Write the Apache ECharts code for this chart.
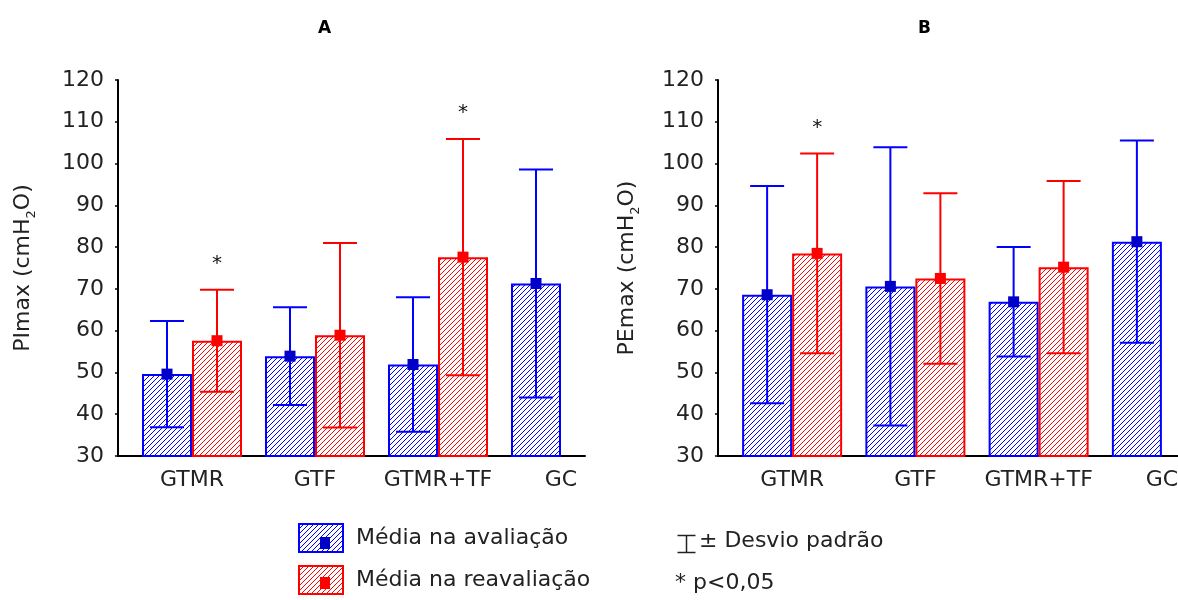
<!DOCTYPE html>
<html>
<head>
<meta charset="utf-8">
<script src="https://cdn.jsdelivr.net/npm/echarts@6/dist/echarts.min.js"></script>
<style>
  html, body { margin: 0; padding: 0; background: #fff; overflow: hidden; }
  /* wider than the window: panel B runs off the right edge as in the original */
  #chart { width: 1230px; height: 600px; }
</style>
</head>
<body>
<div id="chart"></div>
<script>
// groups on the x axis
const categories = ['GTMR', 'GTF', 'GTMR+TF', 'GC']

// A - PImax (cmH2O)
const piAvalMean = [49.6, 53.9, 51.9, 71.3]
const piAvalSd = [12.7, 11.7, 16.1, 27.3]
const piReavMean = [57.6, 58.9, 77.6, null]
const piReavSd = [12.2, 22.1, 28.3, null]
const piSig = [1, 0, 1, 0]

// B - PEmax (cmH2O)
const peAvalMean = [68.6, 70.6, 66.9, 81.3]
const peAvalSd = [26.0, 33.3, 13.1, 24.2]
const peReavMean = [78.5, 72.5, 75.2, null]
const peReavSd = [23.9, 20.4, 20.6, null]
const peSig = [1, 0, 0, 0]

const yTicks = { min: 30, max: 120, interval: 10 }

const BLUE = '#0000ff'
const RED = '#ff0000'
const BLUE_DARK = '#0000c8'
const FONT = 'DejaVu Sans'

// diagonal hatch used as bar fill
function hatch(color, size) {
  const c = document.createElement('canvas')
  c.width = size
  c.height = size
  const ctx = c.getContext('2d')
  ctx.fillStyle = '#fff'
  ctx.fillRect(0, 0, size, size)
  ctx.fillStyle = color
  for (let i = 0; i < size; i++) ctx.fillRect(i, size - 1 - i, 1, 1)
  return { image: c, repeat: 'repeat' }
}

function errorSeries(name, xi, yi, means, sds, sig, side, color, markColor) {
  const data = means.map((m, i) => [i, m, sds[i], sig[i]])
  return {
    name: name + ' dp',
    type: 'custom',
    xAxisIndex: xi,
    yAxisIndex: yi,
    z: 5,
    silent: true,
    clip: false,
    data,
    encode: { x: 0, y: 1 },
    renderItem(params, api) {
      const m = api.value(1)
      if (m == null || isNaN(m)) return null
      const s = api.value(2)
      const ctr = api.coord([api.value(0), m])
      const top = api.coord([api.value(0), m + s])
      const bot = api.coord([api.value(0), m - s])
      const x = ctr[0] + side * 25
      const cap = 17
      const ls = { stroke: color, lineWidth: 2 }
      const kids = [
        { type: 'line', shape: { x1: x, y1: top[1], x2: x, y2: bot[1] }, style: ls },
        { type: 'line', shape: { x1: x - cap, y1: top[1], x2: x + cap, y2: top[1] }, style: ls },
        { type: 'line', shape: { x1: x - cap, y1: bot[1], x2: x + cap, y2: bot[1] }, style: ls },
        { type: 'rect', shape: { x: x - 5.5, y: ctr[1] - 5.5, width: 11, height: 11 }, style: { fill: markColor } },
      ]
      if (api.value(3)) {
        kids.push({
          type: 'text',
          style: {
            text: '*', x: x, y: top[1] - 36, fill: '#111',
            font: '20px ' + FONT, align: 'center', verticalAlign: 'top',
          },
        })
      }
      return { type: 'group', children: kids }
    },
  }
}

function barSeries(name, xi, yi, values, color) {
  return {
    name,
    type: 'bar',
    xAxisIndex: xi,
    yAxisIndex: yi,
    data: values,
    barWidth: 50,
    barGap: '0%',
    itemStyle: { color: hatch(color, 5), borderColor: color, borderWidth: 2 },
  }
}

function axisGrid(left, width) {
  return { left, width, top: 80, bottom: 144 }
}

function valueXAxis(gi) {
  return {
    gridIndex: gi, type: 'value', min: 0, max: 1,
    axisLine: { show: true, onZero: false, lineStyle: { color: '#000', width: 2 } },
    axisTick: { show: false }, axisLabel: { show: false }, splitLine: { show: false },
  }
}

function catXAxis(gi) {
  return {
    gridIndex: gi, type: 'category', data: categories,
    axisLine: { show: false }, axisTick: { show: false },
    axisLabel: { color: '#222', fontSize: 22, fontFamily: FONT, margin: 13, interval: 0 },
  }
}

function shownYAxis(gi, label, gap) {
  return {
    gridIndex: gi, type: 'value', ...yTicks,
    name: label, nameLocation: 'middle', nameGap: gap,
    nameTextStyle: {
      color: '#222', fontSize: 22, fontFamily: FONT,
      rich: {
        n: { fontSize: 22, fontFamily: FONT, color: '#222', lineHeight: 30 },
        s: { fontSize: 13, fontFamily: FONT, color: '#222', lineHeight: 30, verticalAlign: 'bottom' },
      },
    },
    axisLine: { show: true, onZero: false, lineStyle: { color: '#000', width: 2 } },
    axisTick: { show: true, length: 3, lineStyle: { color: '#000', width: 1.5 } },
    axisLabel: { color: '#222', fontSize: 22, fontFamily: FONT, margin: 14 },
    splitLine: { show: false },
  }
}

function hiddenYAxis(gi) {
  return { gridIndex: gi, type: 'value', ...yTicks, show: false, splitLine: { show: false } }
}

const chart = echarts.init(document.getElementById('chart'))

chart.setOption({
  backgroundColor: '#fff',
  animation: false,
  title: [
    { text: 'A', left: 318, top: 20, padding: 0, textStyle: { fontSize: 17, fontWeight: 'bold', fontFamily: FONT, color: '#000' } },
    { text: 'B', left: 918, top: 20, padding: 0, textStyle: { fontSize: 17, fontWeight: 'bold', fontFamily: FONT, color: '#000' } },
  ],
  legend: {
    orient: 'vertical',
    left: 298,
    top: 523,
    icon: 'rect',
    itemWidth: 44,
    itemHeight: 28,
    itemGap: 12,
    padding: 0,
    selectedMode: false,
    data: ['Média na avaliação', 'Média na reavaliação'],
    textStyle: { color: '#222', fontSize: 22, fontFamily: FONT, padding: [0, 0, 0, 8] },
  },
  grid: [
    axisGrid(118, 467),
    axisGrid(130.5, 492),
    axisGrid(718, 510),
    axisGrid(730.5, 493),
  ],
  xAxis: [valueXAxis(0), catXAxis(1), valueXAxis(2), catXAxis(3)],
  yAxis: [
    shownYAxis(0, '{n|PImax (cmH}{s|2}{n|O)}', 80),
    hiddenYAxis(1),
    shownYAxis(2, '{n|PEmax (cmH}{s|2}{n|O)}', 76),
    hiddenYAxis(3),
  ],
  series: [
    barSeries('Média na avaliação', 1, 1, piAvalMean, BLUE),
    barSeries('Média na reavaliação', 1, 1, piReavMean, RED),
    errorSeries('A aval', 1, 1, piAvalMean, piAvalSd, [0, 0, 0, 0], -1, BLUE, BLUE_DARK),
    errorSeries('A reav', 1, 1, piReavMean, piReavSd, piSig, 1, RED, RED),
    barSeries('Média na avaliação', 3, 3, peAvalMean, BLUE),
    barSeries('Média na reavaliação', 3, 3, peReavMean, RED),
    errorSeries('B aval', 3, 3, peAvalMean, peAvalSd, [0, 0, 0, 0], -1, BLUE, BLUE_DARK),
    errorSeries('B reav', 3, 3, peReavMean, peReavSd, peSig, 1, RED, RED),
  ],
  graphic: [
    // solid mean markers inside legend boxes
    { type: 'rect', left: 320, top: 537, shape: { width: 10, height: 12 }, style: { fill: BLUE_DARK }, z: 100 },
    { type: 'rect', left: 320, top: 577, shape: { width: 10, height: 12 }, style: { fill: RED }, z: 100 },
    // error bar key
    {
      type: 'group', left: 675, top: 533, z: 100,
      children: [
        { type: 'line', shape: { x1: 0, y1: 0, x2: 18, y2: 0 }, style: { stroke: '#222', lineWidth: 1.5 } },
        { type: 'line', shape: { x1: 9, y1: 0, x2: 9, y2: 17 }, style: { stroke: '#222', lineWidth: 1.5 } },
        { type: 'line', shape: { x1: 0, y1: 17, x2: 18, y2: 17 }, style: { stroke: '#222', lineWidth: 1.5 } },
      ],
    },
    { type: 'text', left: 699, top: 530, style: { text: '± Desvio padrão', fill: '#222', font: '22px ' + FONT } },
    { type: 'text', left: 675, top: 572, style: { text: '* p<0,05', fill: '#222', font: '22px ' + FONT } },
  ],
})
</script>
</body>
</html>
